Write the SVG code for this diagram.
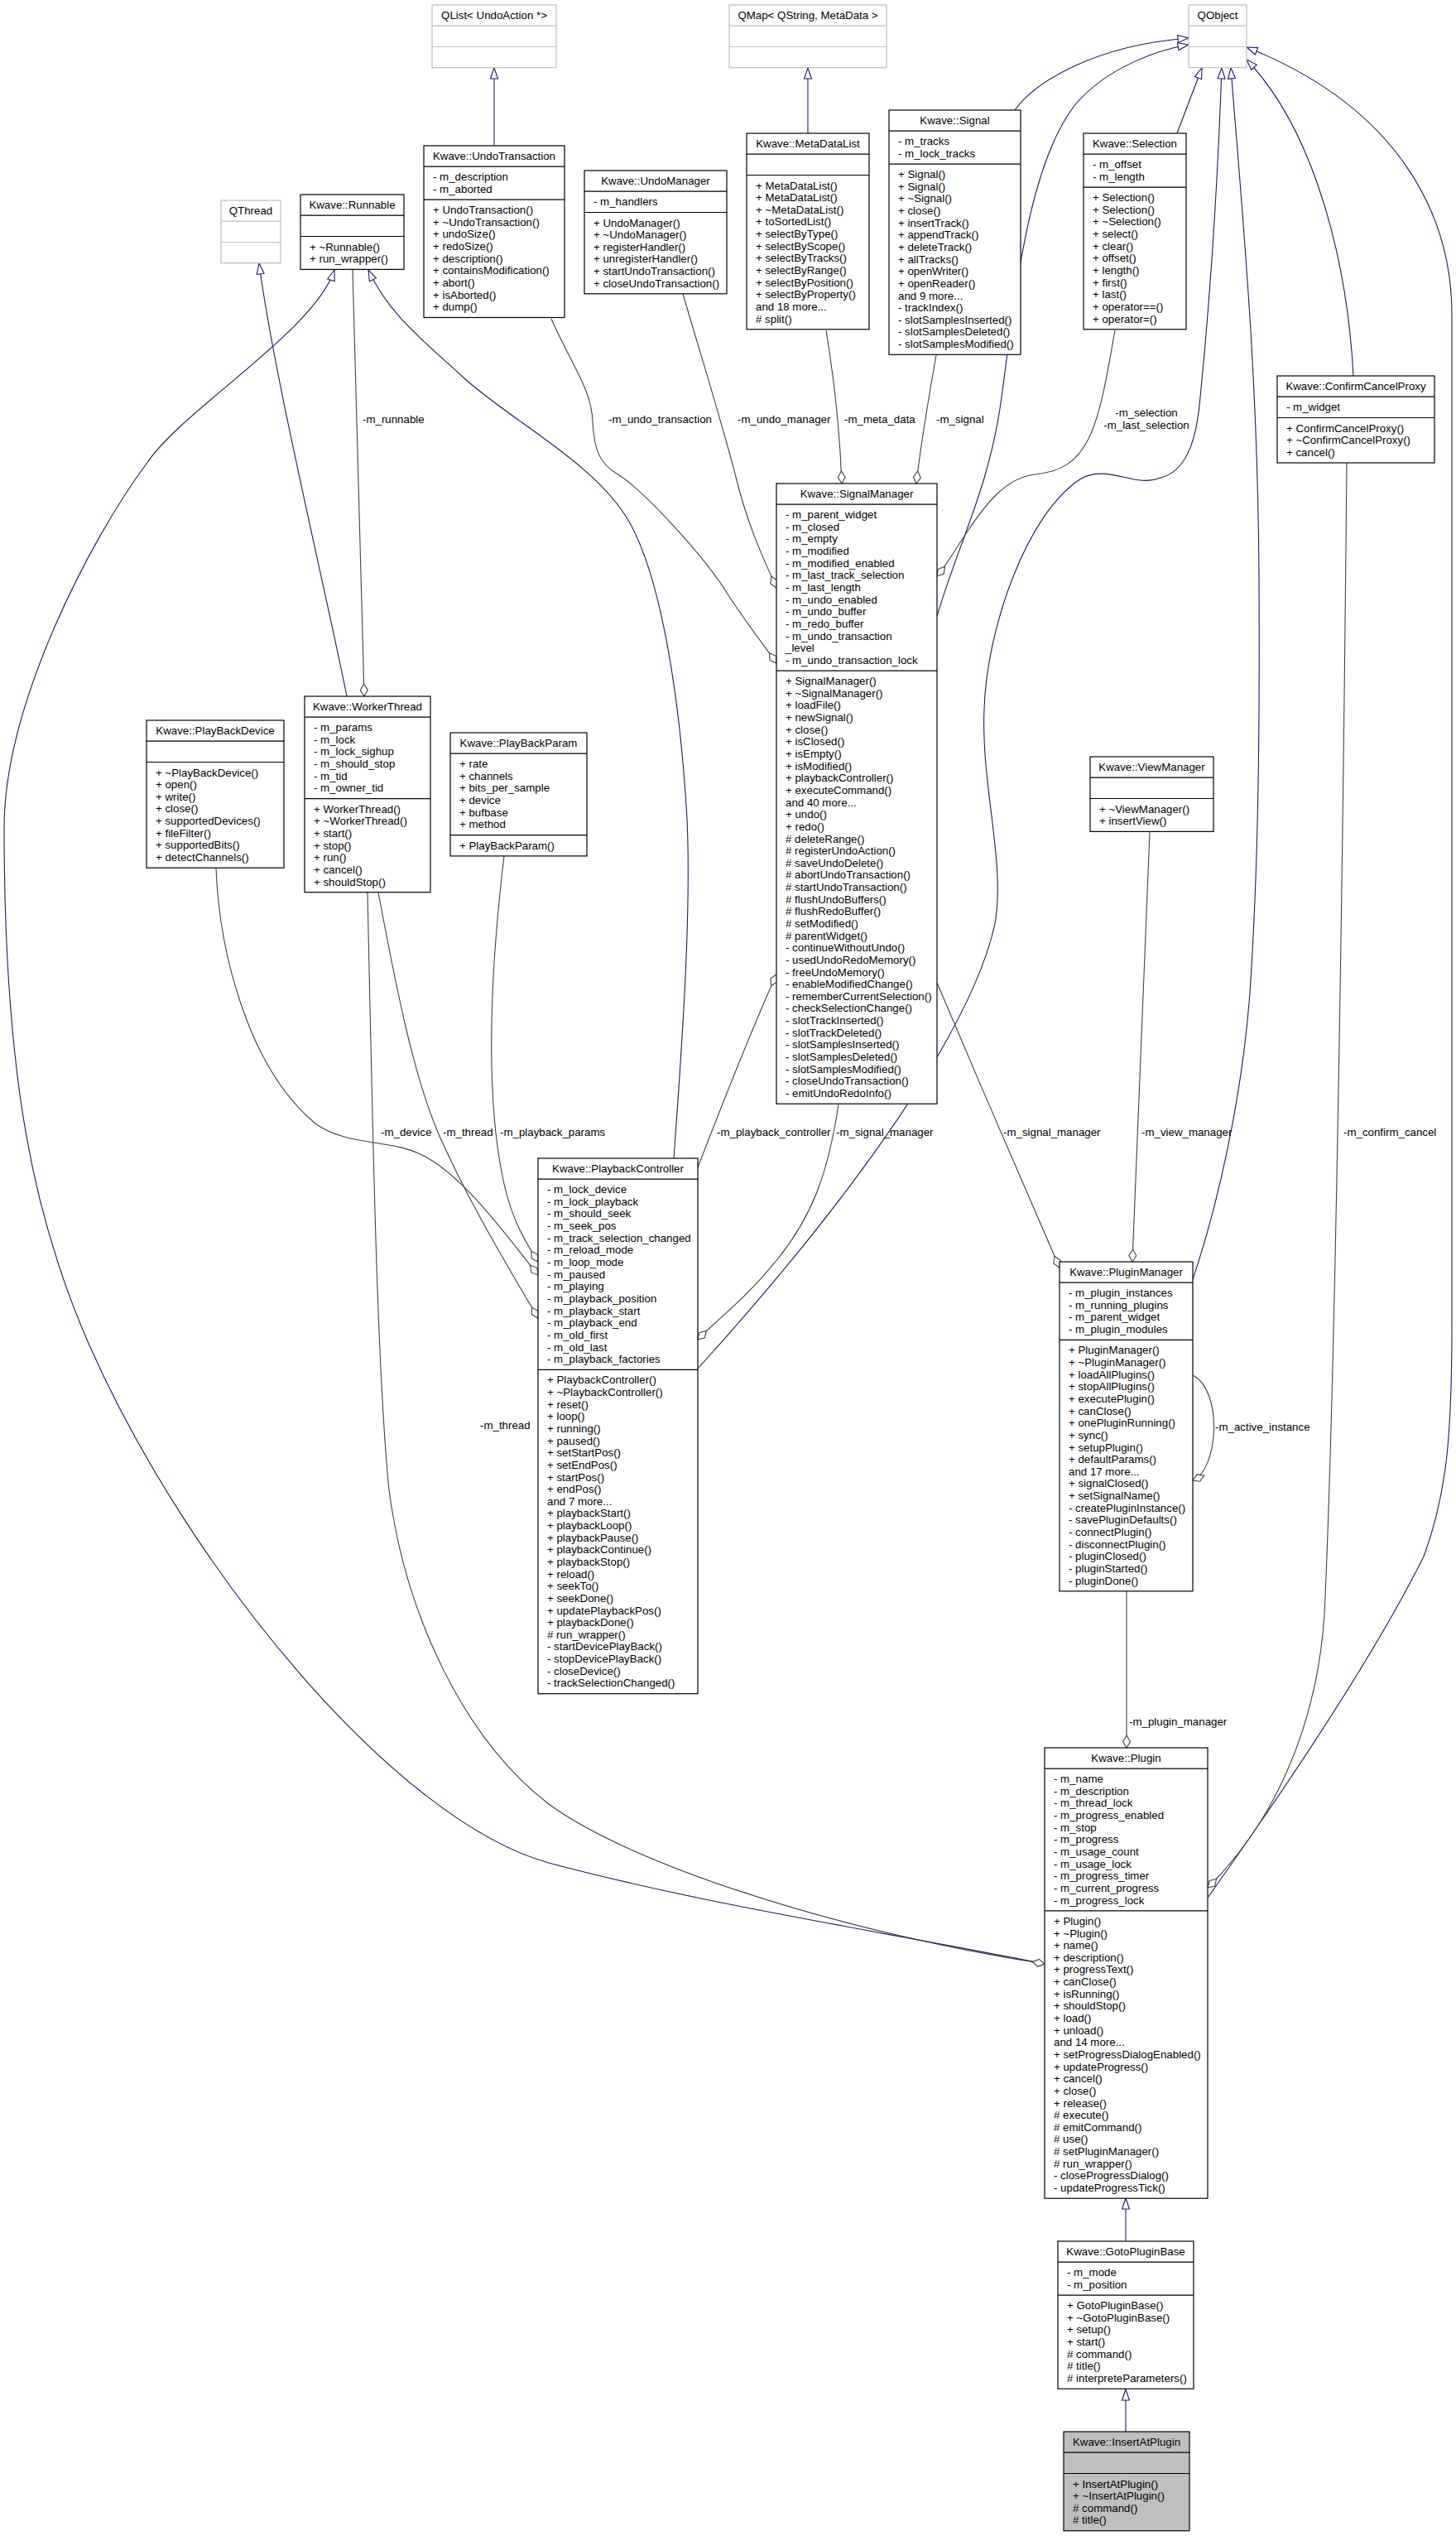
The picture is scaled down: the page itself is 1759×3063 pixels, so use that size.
<svg xmlns="http://www.w3.org/2000/svg" width="1759" height="3063" viewBox="0 0 1759 3063">
<defs>
<style>
text{font-family:"Liberation Sans",Arial,Helvetica,sans-serif;font-size:13.3px;fill:#000}
.c{text-anchor:middle}
.b{fill:#fff;stroke:#000;stroke-width:1.2}
.g{fill:#fff;stroke:#bfbfbf;stroke-width:1.2}
.s{fill:#bfbfbf;stroke:#000;stroke-width:1.2}
.sl{fill:none;stroke:#000;stroke-width:1.2}
.gl{fill:none;stroke:#bfbfbf;stroke-width:1.2}
.inh{fill:none;stroke:#191970;stroke-width:1.1;marker-end:url(#tri)}
.agg{fill:none;stroke:#404040;stroke-width:1.1;marker-end:url(#dia)}
</style>
<marker id="tri" markerUnits="userSpaceOnUse" markerWidth="18" markerHeight="14" refX="14" refY="6" orient="auto" overflow="visible"><path d="M1,1.5 L14,6 L1,10.5 Z" fill="#fff" stroke="#191970" stroke-width="1.1"/></marker>
<marker id="dia" markerUnits="userSpaceOnUse" markerWidth="18" markerHeight="14" refX="16" refY="6" orient="auto" overflow="visible"><path d="M1,6 L8.5,1.5 L16,6 L8.5,10.5 Z" fill="#fff" stroke="#404040" stroke-width="1.1"/></marker>
</defs>
<rect x="0" y="0" width="1759" height="3063" fill="#fff"/>

<g id="connectors">
<path class="inh" d="M597,176 L597,82"/>
<path class="inh" d="M976,161 L976,82"/>
<path class="inh" d="M1226,133 C1250,100 1320,55 1436,46"/>
<path class="inh" d="M1132,744 C1160,650 1195,590 1210,480 C1225,370 1240,200 1300,125 C1340,80 1400,60 1436,54"/>
<path class="inh" d="M1422,161 L1452,82"/>
<path class="inh" d="M843,1653 C1000,1480 1170,1260 1202,1116 C1215,1040 1185,950 1189,856 C1192,760 1240,620 1306,578 C1340,560 1370,590 1402,577 C1430,570 1445,540 1450,480 C1460,380 1470,250 1476,82"/>
<path class="inh" d="M1635,454 C1628,320 1590,160 1506,72"/>
<path class="inh" d="M1459,2292 C1560,2150 1660,2000 1720,1880 C1750,1800 1754,1720 1754,1600 L1754,380 C1754,260 1690,130 1506,57"/>
<path class="inh" d="M1441,1545 C1470,1460 1500,1330 1510,1200 C1520,1050 1522,900 1521,700 C1520,450 1500,250 1487,82"/>
<path class="inh" d="M814,1399 C825,1250 835,1100 830,989 C822,850 800,700 760,630 C720,560 620,510 561,457 C510,410 470,380 445,326"/>
<path class="inh" d="M1262,2372 C1050,2330 850,2300 663,2250 C480,2200 230,1900 108,1625 C40,1470 5,1300 5,1000 C5,850 110,650 177,560 C220,495 380,400 404,326"/>
<path class="inh" d="M419,841 C395,720 330,450 313,318"/>
<path class="inh" d="M1360,2707 L1360,2655"/>
<path class="inh" d="M1360,2937 L1360,2886"/>

<path class="agg" d="M426,326 L440,841"/>
<path class="agg" d="M666,385 C690,440 715,470 716,510 C718,545 725,560 745,572 C775,590 850,670 880,719 C900,750 920,775 938,801"/>
<path class="agg" d="M825,355 C850,440 875,520 890,580 C905,640 925,680 938,710"/>
<path class="agg" d="M998,399 C1008,460 1015,530 1017,584"/>
<path class="agg" d="M1131,429 C1122,480 1112,540 1107,584"/>
<path class="agg" d="M1347,399 C1338,450 1330,500 1315,530 C1300,560 1280,570 1250,573 C1215,577 1190,610 1170,640 C1155,662 1145,680 1132,696"/>
<path class="agg" d="M457,1078 C480,1200 500,1300 530,1370 C570,1460 620,1540 650,1592"/>
<path class="agg" d="M444,1078 C450,1350 455,1650 470,1800 C490,1950 560,2100 663,2179 C760,2250 1000,2330 1262,2372"/>
<path class="agg" d="M261,1049 C265,1150 300,1290 381,1357 C420,1385 470,1375 510,1395 C560,1420 610,1490 650,1540"/>
<path class="agg" d="M609,1034 C595,1150 585,1300 605,1410 C615,1470 635,1500 650,1524"/>
<path class="agg" d="M843,1410 C870,1340 905,1250 938,1177"/>
<path class="agg" d="M1013,1334 C1000,1420 980,1470 940,1520 C900,1570 870,1590 843,1618"/>
<path class="agg" d="M1132,1187 C1180,1300 1240,1440 1280,1531"/>
<path class="agg" d="M1389,1005 L1368,1524"/>
<path class="agg" d="M1627,559 C1622,1100 1612,1700 1600,1950 C1590,2100 1530,2210 1459,2280"/>
<path class="agg" d="M1441,1661 C1478,1680 1472,1775 1441,1788"/>
<path class="agg" d="M1361,1922 L1361,2111"/>

<text x="438" y="511">-m_runnable</text>
<text x="735" y="511">-m_undo_transaction</text>
<text x="891" y="511">-m_undo_manager</text>
<text x="1020" y="511">-m_meta_data</text>
<text x="1131" y="511">-m_signal</text>
<text class="c" x="1385" y="503">-m_selection</text>
<text class="c" x="1385" y="518">-m_last_selection</text>
<text x="460" y="1372">-m_device</text>
<text x="535" y="1372">-m_thread</text>
<text x="604" y="1372">-m_playback_params</text>
<text x="866" y="1372">-m_playback_controller</text>
<text x="1010" y="1372">-m_signal_manager</text>
<text x="1212" y="1372">-m_signal_manager</text>
<text x="1379" y="1372">-m_view_manager</text>
<text x="1623" y="1372">-m_confirm_cancel</text>
<text x="580" y="1726">-m_thread</text>
<text x="1468" y="1728">-m_active_instance</text>
<text x="1364" y="2084">-m_plugin_manager</text>
</g>

<g id="qlist">
<rect class="g" x="522" y="6" width="150" height="75.7"/>
<path class="gl" d="M522,31.2h150M522,56.5h150"/>
<text class="c" x="597" y="23">QList&lt; UndoAction *&gt;</text>
</g>

<g id="qmap">
<rect class="g" x="881" y="6" width="190" height="75.7"/>
<path class="gl" d="M881,31.2h190M881,56.5h190"/>
<text class="c" x="976" y="23">QMap&lt; QString, MetaData &gt;</text>
</g>

<g id="qobject">
<rect class="g" x="1436" y="6" width="70" height="75.7"/>
<path class="gl" d="M1436,31.2h70M1436,56.5h70"/>
<text class="c" x="1471" y="23">QObject</text>
</g>

<g id="qthread">
<rect class="g" x="267" y="242" width="72" height="75.7"/>
<path class="gl" d="M267,267.2h72M267,292.5h72"/>
<text class="c" x="303" y="259">QThread</text>
</g>

<g id="undotransaction">
<rect class="b" x="512" y="176" width="170" height="207.5"/>
<path class="sl" d="M512,201.2h170M512,241.1h170"/>
<text class="c" x="597" y="193">Kwave::UndoTransaction</text>
<text x="523" y="218.2"><tspan x="523">- m_description</tspan><tspan x="523" dy="14.64">- m_aborted</tspan></text>
<text x="523" y="258.1"><tspan x="523">+ UndoTransaction()</tspan><tspan x="523" dy="14.64">+ ~UndoTransaction()</tspan><tspan x="523" dy="14.64">+ undoSize()</tspan><tspan x="523" dy="14.64">+ redoSize()</tspan><tspan x="523" dy="14.64">+ description()</tspan><tspan x="523" dy="14.64">+ containsModification()</tspan><tspan x="523" dy="14.64">+ abort()</tspan><tspan x="523" dy="14.64">+ isAborted()</tspan><tspan x="523" dy="14.64">+ dump()</tspan></text>
</g>

<g id="undomanager">
<rect class="b" x="706" y="206" width="172" height="148.8"/>
<path class="sl" d="M706,231.2h172M706,256.5h172"/>
<text class="c" x="792" y="223">Kwave::UndoManager</text>
<text x="717" y="248.2">- m_handlers</text>
<text x="717" y="273.5"><tspan x="717">+ UndoManager()</tspan><tspan x="717" dy="14.64">+ ~UndoManager()</tspan><tspan x="717" dy="14.64">+ registerHandler()</tspan><tspan x="717" dy="14.64">+ unregisterHandler()</tspan><tspan x="717" dy="14.64">+ startUndoTransaction()</tspan><tspan x="717" dy="14.64">+ closeUndoTransaction()</tspan></text>
</g>

<g id="metadatalist">
<rect class="b" x="902" y="161" width="148" height="236.8"/>
<path class="sl" d="M902,186.2h148M902,211.5h148"/>
<text class="c" x="976" y="178">Kwave::MetaDataList</text>
<text x="913" y="228.5"><tspan x="913">+ MetaDataList()</tspan><tspan x="913" dy="14.64">+ MetaDataList()</tspan><tspan x="913" dy="14.64">+ ~MetaDataList()</tspan><tspan x="913" dy="14.64">+ toSortedList()</tspan><tspan x="913" dy="14.64">+ selectByType()</tspan><tspan x="913" dy="14.64">+ selectByScope()</tspan><tspan x="913" dy="14.64">+ selectByTracks()</tspan><tspan x="913" dy="14.64">+ selectByRange()</tspan><tspan x="913" dy="14.64">+ selectByPosition()</tspan><tspan x="913" dy="14.64">+ selectByProperty()</tspan><tspan x="913" dy="14.64">and 18 more...</tspan><tspan x="913" dy="14.64"># split()</tspan></text>
</g>

<g id="signal">
<rect class="b" x="1074" y="133" width="159" height="295.3"/>
<path class="sl" d="M1074,158.2h159M1074,198.1h159"/>
<text class="c" x="1153.5" y="150">Kwave::Signal</text>
<text x="1085" y="175.2"><tspan x="1085">- m_tracks</tspan><tspan x="1085" dy="14.64">- m_lock_tracks</tspan></text>
<text x="1085" y="215.1"><tspan x="1085">+ Signal()</tspan><tspan x="1085" dy="14.64">+ Signal()</tspan><tspan x="1085" dy="14.64">+ ~Signal()</tspan><tspan x="1085" dy="14.64">+ close()</tspan><tspan x="1085" dy="14.64">+ insertTrack()</tspan><tspan x="1085" dy="14.64">+ appendTrack()</tspan><tspan x="1085" dy="14.64">+ deleteTrack()</tspan><tspan x="1085" dy="14.64">+ allTracks()</tspan><tspan x="1085" dy="14.64">+ openWriter()</tspan><tspan x="1085" dy="14.64">+ openReader()</tspan><tspan x="1085" dy="14.64">and 9 more...</tspan><tspan x="1085" dy="14.64">- trackIndex()</tspan><tspan x="1085" dy="14.64">- slotSamplesInserted()</tspan><tspan x="1085" dy="14.64">- slotSamplesDeleted()</tspan><tspan x="1085" dy="14.64">- slotSamplesModified()</tspan></text>
</g>

<g id="selection">
<rect class="b" x="1309" y="161" width="124" height="236.8"/>
<path class="sl" d="M1309,186.2h124M1309,226.1h124"/>
<text class="c" x="1371" y="178">Kwave::Selection</text>
<text x="1320" y="203.2"><tspan x="1320">- m_offset</tspan><tspan x="1320" dy="14.64">- m_length</tspan></text>
<text x="1320" y="243.1"><tspan x="1320">+ Selection()</tspan><tspan x="1320" dy="14.64">+ Selection()</tspan><tspan x="1320" dy="14.64">+ ~Selection()</tspan><tspan x="1320" dy="14.64">+ select()</tspan><tspan x="1320" dy="14.64">+ clear()</tspan><tspan x="1320" dy="14.64">+ offset()</tspan><tspan x="1320" dy="14.64">+ length()</tspan><tspan x="1320" dy="14.64">+ first()</tspan><tspan x="1320" dy="14.64">+ last()</tspan><tspan x="1320" dy="14.64">+ operator==()</tspan><tspan x="1320" dy="14.64">+ operator=()</tspan></text>
</g>

<g id="confirmcancelproxy">
<rect class="b" x="1543" y="454" width="190" height="105"/>
<path class="sl" d="M1543,479.2h190M1543,504.5h190"/>
<text class="c" x="1638" y="471">Kwave::ConfirmCancelProxy</text>
<text x="1554" y="496.2">- m_widget</text>
<text x="1554" y="521.5"><tspan x="1554">+ ConfirmCancelProxy()</tspan><tspan x="1554" dy="14.64">+ ~ConfirmCancelProxy()</tspan><tspan x="1554" dy="14.64">+ cancel()</tspan></text>
</g>

<g id="runnable">
<rect class="b" x="363" y="235" width="125" height="90.4"/>
<path class="sl" d="M363,260.2h125M363,285.5h125"/>
<text class="c" x="425.5" y="252">Kwave::Runnable</text>
<text x="374" y="302.5"><tspan x="374">+ ~Runnable()</tspan><tspan x="374" dy="14.64">+ run_wrapper()</tspan></text>
</g>

<g id="signalmanager">
<rect class="b" x="938" y="584" width="194" height="749.2"/>
<path class="sl" d="M938,609.2h194M938,810.2h194"/>
<text class="c" x="1035" y="601">Kwave::SignalManager</text>
<text x="949" y="626.2"><tspan x="949">- m_parent_widget</tspan><tspan x="949" dy="14.64">- m_closed</tspan><tspan x="949" dy="14.64">- m_empty</tspan><tspan x="949" dy="14.64">- m_modified</tspan><tspan x="949" dy="14.64">- m_modified_enabled</tspan><tspan x="949" dy="14.64">- m_last_track_selection</tspan><tspan x="949" dy="14.64">- m_last_length</tspan><tspan x="949" dy="14.64">- m_undo_enabled</tspan><tspan x="949" dy="14.64">- m_undo_buffer</tspan><tspan x="949" dy="14.64">- m_redo_buffer</tspan><tspan x="949" dy="14.64">- m_undo_transaction</tspan><tspan x="949" dy="14.64">_level</tspan><tspan x="949" dy="14.64">- m_undo_transaction_lock</tspan></text>
<text x="949" y="827.2"><tspan x="949">+ SignalManager()</tspan><tspan x="949" dy="14.64">+ ~SignalManager()</tspan><tspan x="949" dy="14.64">+ loadFile()</tspan><tspan x="949" dy="14.64">+ newSignal()</tspan><tspan x="949" dy="14.64">+ close()</tspan><tspan x="949" dy="14.64">+ isClosed()</tspan><tspan x="949" dy="14.64">+ isEmpty()</tspan><tspan x="949" dy="14.64">+ isModified()</tspan><tspan x="949" dy="14.64">+ playbackController()</tspan><tspan x="949" dy="14.64">+ executeCommand()</tspan><tspan x="949" dy="14.64">and 40 more...</tspan><tspan x="949" dy="14.64">+ undo()</tspan><tspan x="949" dy="14.64">+ redo()</tspan><tspan x="949" dy="14.64"># deleteRange()</tspan><tspan x="949" dy="14.64"># registerUndoAction()</tspan><tspan x="949" dy="14.64"># saveUndoDelete()</tspan><tspan x="949" dy="14.64"># abortUndoTransaction()</tspan><tspan x="949" dy="14.64"># startUndoTransaction()</tspan><tspan x="949" dy="14.64"># flushUndoBuffers()</tspan><tspan x="949" dy="14.64"># flushRedoBuffer()</tspan><tspan x="949" dy="14.64"># setModified()</tspan><tspan x="949" dy="14.64"># parentWidget()</tspan><tspan x="949" dy="14.64">- continueWithoutUndo()</tspan><tspan x="949" dy="14.64">- usedUndoRedoMemory()</tspan><tspan x="949" dy="14.64">- freeUndoMemory()</tspan><tspan x="949" dy="14.64">- enableModifiedChange()</tspan><tspan x="949" dy="14.64">- rememberCurrentSelection()</tspan><tspan x="949" dy="14.64">- checkSelectionChange()</tspan><tspan x="949" dy="14.64">- slotTrackInserted()</tspan><tspan x="949" dy="14.64">- slotTrackDeleted()</tspan><tspan x="949" dy="14.64">- slotSamplesInserted()</tspan><tspan x="949" dy="14.64">- slotSamplesDeleted()</tspan><tspan x="949" dy="14.64">- slotSamplesModified()</tspan><tspan x="949" dy="14.64">- closeUndoTransaction()</tspan><tspan x="949" dy="14.64">- emitUndoRedoInfo()</tspan></text>
</g>

<g id="playbackdevice">
<rect class="b" x="177" y="870" width="166" height="178.2"/>
<path class="sl" d="M177,895.2h166M177,920.5h166"/>
<text class="c" x="260" y="887">Kwave::PlayBackDevice</text>
<text x="188" y="937.5"><tspan x="188">+ ~PlayBackDevice()</tspan><tspan x="188" dy="14.64">+ open()</tspan><tspan x="188" dy="14.64">+ write()</tspan><tspan x="188" dy="14.64">+ close()</tspan><tspan x="188" dy="14.64">+ supportedDevices()</tspan><tspan x="188" dy="14.64">+ fileFilter()</tspan><tspan x="188" dy="14.64">+ supportedBits()</tspan><tspan x="188" dy="14.64">+ detectChannels()</tspan></text>
</g>

<g id="workerthread">
<rect class="b" x="368" y="841" width="152" height="236.7"/>
<path class="sl" d="M368,866.2h152M368,964.7h152"/>
<text class="c" x="444" y="858">Kwave::WorkerThread</text>
<text x="379" y="883.2"><tspan x="379">- m_params</tspan><tspan x="379" dy="14.64">- m_lock</tspan><tspan x="379" dy="14.64">- m_lock_sighup</tspan><tspan x="379" dy="14.64">- m_should_stop</tspan><tspan x="379" dy="14.64">- m_tid</tspan><tspan x="379" dy="14.64">- m_owner_tid</tspan></text>
<text x="379" y="981.7"><tspan x="379">+ WorkerThread()</tspan><tspan x="379" dy="14.64">+ ~WorkerThread()</tspan><tspan x="379" dy="14.64">+ start()</tspan><tspan x="379" dy="14.64">+ stop()</tspan><tspan x="379" dy="14.64">+ run()</tspan><tspan x="379" dy="14.64">+ cancel()</tspan><tspan x="379" dy="14.64">+ shouldStop()</tspan></text>
</g>

<g id="playbackparam">
<rect class="b" x="544" y="885" width="165" height="148.9"/>
<path class="sl" d="M544,910.2h165M544,1008.7h165"/>
<text class="c" x="626.5" y="902">Kwave::PlayBackParam</text>
<text x="555" y="927.2"><tspan x="555">+ rate</tspan><tspan x="555" dy="14.64">+ channels</tspan><tspan x="555" dy="14.64">+ bits_per_sample</tspan><tspan x="555" dy="14.64">+ device</tspan><tspan x="555" dy="14.64">+ bufbase</tspan><tspan x="555" dy="14.64">+ method</tspan></text>
<text x="555" y="1025.7">+ PlayBackParam()</text>
</g>

<g id="viewmanager">
<rect class="b" x="1317" y="914" width="149" height="90.4"/>
<path class="sl" d="M1317,939.2h149M1317,964.5h149"/>
<text class="c" x="1391.5" y="931">Kwave::ViewManager</text>
<text x="1328" y="981.5"><tspan x="1328">+ ~ViewManager()</tspan><tspan x="1328" dy="14.64">+ insertView()</tspan></text>
</g>

<g id="playbackcontroller">
<rect class="b" x="650" y="1399" width="193" height="646.7"/>
<path class="sl" d="M650,1424.2h193M650,1654.4h193"/>
<text class="c" x="746.5" y="1416">Kwave::PlaybackController</text>
<text x="661" y="1441.2"><tspan x="661">- m_lock_device</tspan><tspan x="661" dy="14.64">- m_lock_playback</tspan><tspan x="661" dy="14.64">- m_should_seek</tspan><tspan x="661" dy="14.64">- m_seek_pos</tspan><tspan x="661" dy="14.64">- m_track_selection_changed</tspan><tspan x="661" dy="14.64">- m_reload_mode</tspan><tspan x="661" dy="14.64">- m_loop_mode</tspan><tspan x="661" dy="14.64">- m_paused</tspan><tspan x="661" dy="14.64">- m_playing</tspan><tspan x="661" dy="14.64">- m_playback_position</tspan><tspan x="661" dy="14.64">- m_playback_start</tspan><tspan x="661" dy="14.64">- m_playback_end</tspan><tspan x="661" dy="14.64">- m_old_first</tspan><tspan x="661" dy="14.64">- m_old_last</tspan><tspan x="661" dy="14.64">- m_playback_factories</tspan></text>
<text x="661" y="1671.4"><tspan x="661">+ PlaybackController()</tspan><tspan x="661" dy="14.64">+ ~PlaybackController()</tspan><tspan x="661" dy="14.64">+ reset()</tspan><tspan x="661" dy="14.64">+ loop()</tspan><tspan x="661" dy="14.64">+ running()</tspan><tspan x="661" dy="14.64">+ paused()</tspan><tspan x="661" dy="14.64">+ setStartPos()</tspan><tspan x="661" dy="14.64">+ setEndPos()</tspan><tspan x="661" dy="14.64">+ startPos()</tspan><tspan x="661" dy="14.64">+ endPos()</tspan><tspan x="661" dy="14.64">and 7 more...</tspan><tspan x="661" dy="14.64">+ playbackStart()</tspan><tspan x="661" dy="14.64">+ playbackLoop()</tspan><tspan x="661" dy="14.64">+ playbackPause()</tspan><tspan x="661" dy="14.64">+ playbackContinue()</tspan><tspan x="661" dy="14.64">+ playbackStop()</tspan><tspan x="661" dy="14.64">+ reload()</tspan><tspan x="661" dy="14.64">+ seekTo()</tspan><tspan x="661" dy="14.64">+ seekDone()</tspan><tspan x="661" dy="14.64">+ updatePlaybackPos()</tspan><tspan x="661" dy="14.64">+ playbackDone()</tspan><tspan x="661" dy="14.64"># run_wrapper()</tspan><tspan x="661" dy="14.64">- startDevicePlayBack()</tspan><tspan x="661" dy="14.64">- stopDevicePlayBack()</tspan><tspan x="661" dy="14.64">- closeDevice()</tspan><tspan x="661" dy="14.64">- trackSelectionChanged()</tspan></text>
</g>

<g id="pluginmanager">
<rect class="b" x="1280" y="1524" width="161" height="397.8"/>
<path class="sl" d="M1280,1549.2h161M1280,1618.4h161"/>
<text class="c" x="1360.5" y="1541">Kwave::PluginManager</text>
<text x="1291" y="1566.2"><tspan x="1291">- m_plugin_instances</tspan><tspan x="1291" dy="14.64">- m_running_plugins</tspan><tspan x="1291" dy="14.64">- m_parent_widget</tspan><tspan x="1291" dy="14.64">- m_plugin_modules</tspan></text>
<text x="1291" y="1635.4"><tspan x="1291">+ PluginManager()</tspan><tspan x="1291" dy="14.64">+ ~PluginManager()</tspan><tspan x="1291" dy="14.64">+ loadAllPlugins()</tspan><tspan x="1291" dy="14.64">+ stopAllPlugins()</tspan><tspan x="1291" dy="14.64">+ executePlugin()</tspan><tspan x="1291" dy="14.64">+ canClose()</tspan><tspan x="1291" dy="14.64">+ onePluginRunning()</tspan><tspan x="1291" dy="14.64">+ sync()</tspan><tspan x="1291" dy="14.64">+ setupPlugin()</tspan><tspan x="1291" dy="14.64">+ defaultParams()</tspan><tspan x="1291" dy="14.64">and 17 more...</tspan><tspan x="1291" dy="14.64">+ signalClosed()</tspan><tspan x="1291" dy="14.64">+ setSignalName()</tspan><tspan x="1291" dy="14.64">- createPluginInstance()</tspan><tspan x="1291" dy="14.64">- savePluginDefaults()</tspan><tspan x="1291" dy="14.64">- connectPlugin()</tspan><tspan x="1291" dy="14.64">- disconnectPlugin()</tspan><tspan x="1291" dy="14.64">- pluginClosed()</tspan><tspan x="1291" dy="14.64">- pluginStarted()</tspan><tspan x="1291" dy="14.64">- pluginDone()</tspan></text>
</g>

<g id="plugin">
<rect class="b" x="1262" y="2111" width="197" height="544.2"/>
<path class="sl" d="M1262,2136.2h197M1262,2307.9h197"/>
<text class="c" x="1360.5" y="2128">Kwave::Plugin</text>
<text x="1273" y="2153.2"><tspan x="1273">- m_name</tspan><tspan x="1273" dy="14.64">- m_description</tspan><tspan x="1273" dy="14.64">- m_thread_lock</tspan><tspan x="1273" dy="14.64">- m_progress_enabled</tspan><tspan x="1273" dy="14.64">- m_stop</tspan><tspan x="1273" dy="14.64">- m_progress</tspan><tspan x="1273" dy="14.64">- m_usage_count</tspan><tspan x="1273" dy="14.64">- m_usage_lock</tspan><tspan x="1273" dy="14.64">- m_progress_timer</tspan><tspan x="1273" dy="14.64">- m_current_progress</tspan><tspan x="1273" dy="14.64">- m_progress_lock</tspan></text>
<text x="1273" y="2324.9"><tspan x="1273">+ Plugin()</tspan><tspan x="1273" dy="14.64">+ ~Plugin()</tspan><tspan x="1273" dy="14.64">+ name()</tspan><tspan x="1273" dy="14.64">+ description()</tspan><tspan x="1273" dy="14.64">+ progressText()</tspan><tspan x="1273" dy="14.64">+ canClose()</tspan><tspan x="1273" dy="14.64">+ isRunning()</tspan><tspan x="1273" dy="14.64">+ shouldStop()</tspan><tspan x="1273" dy="14.64">+ load()</tspan><tspan x="1273" dy="14.64">+ unload()</tspan><tspan x="1273" dy="14.64">and 14 more...</tspan><tspan x="1273" dy="14.64">+ setProgressDialogEnabled()</tspan><tspan x="1273" dy="14.64">+ updateProgress()</tspan><tspan x="1273" dy="14.64">+ cancel()</tspan><tspan x="1273" dy="14.64">+ close()</tspan><tspan x="1273" dy="14.64">+ release()</tspan><tspan x="1273" dy="14.64"># execute()</tspan><tspan x="1273" dy="14.64"># emitCommand()</tspan><tspan x="1273" dy="14.64"># use()</tspan><tspan x="1273" dy="14.64"># setPluginManager()</tspan><tspan x="1273" dy="14.64"># run_wrapper()</tspan><tspan x="1273" dy="14.64">- closeProgressDialog()</tspan><tspan x="1273" dy="14.64">- updateProgressTick()</tspan></text>
</g>

<g id="gotopluginbase">
<rect class="b" x="1278" y="2707" width="164" height="178.2"/>
<path class="sl" d="M1278,2732.2h164M1278,2772.1h164"/>
<text class="c" x="1360" y="2724">Kwave::GotoPluginBase</text>
<text x="1289" y="2749.2"><tspan x="1289">- m_mode</tspan><tspan x="1289" dy="14.64">- m_position</tspan></text>
<text x="1289" y="2789.1"><tspan x="1289">+ GotoPluginBase()</tspan><tspan x="1289" dy="14.64">+ ~GotoPluginBase()</tspan><tspan x="1289" dy="14.64">+ setup()</tspan><tspan x="1289" dy="14.64">+ start()</tspan><tspan x="1289" dy="14.64"># command()</tspan><tspan x="1289" dy="14.64"># title()</tspan><tspan x="1289" dy="14.64"># interpreteParameters()</tspan></text>
</g>

<g id="insertatplugin">
<rect class="s" x="1285" y="2937" width="152" height="119.7"/>
<path class="sl" d="M1285,2962.2h152M1285,2987.5h152"/>
<text class="c" x="1361" y="2954">Kwave::InsertAtPlugin</text>
<text x="1296" y="3004.5"><tspan x="1296">+ InsertAtPlugin()</tspan><tspan x="1296" dy="14.64">+ ~InsertAtPlugin()</tspan><tspan x="1296" dy="14.64"># command()</tspan><tspan x="1296" dy="14.64"># title()</tspan></text>
</g>
</svg>
